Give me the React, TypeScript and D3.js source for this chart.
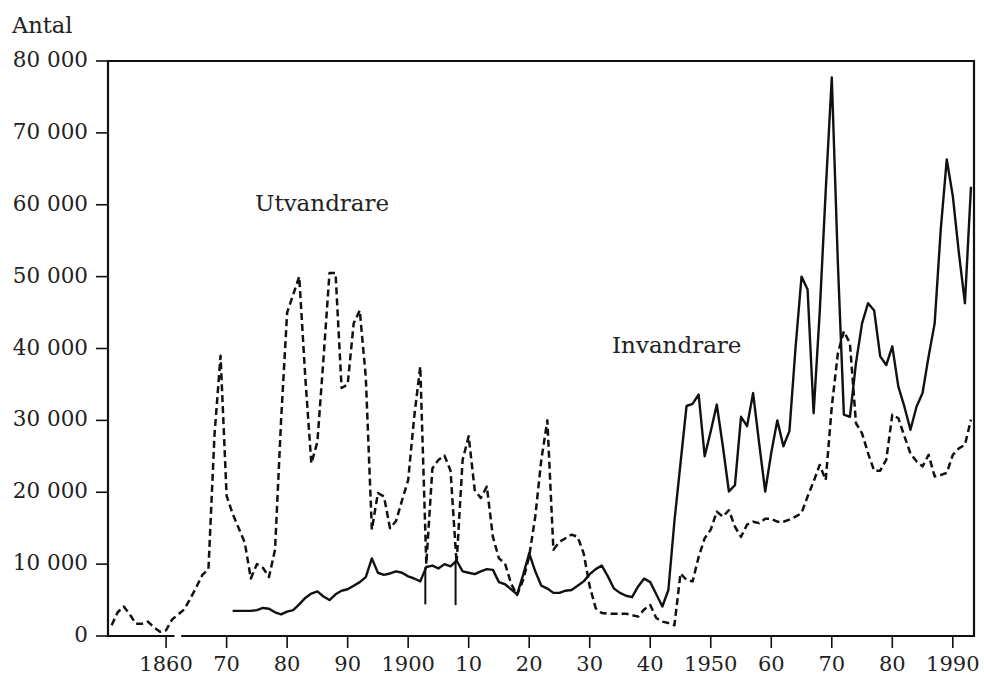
import React from "react";
import * as d3 from "d3";

// Years shown on the x axis
const tickYears = [1860, 1870, 1880, 1890, 1900, 1910, 1920, 1930, 1940, 1950, 1960, 1970, 1980, 1990];
const tickLabels = ["1860", "70", "80", "90", "1900", "10", "20", "30", "40", "1950", "60", "70", "80", "1990"];
const yTicks = [0, 10000, 20000, 30000, 40000, 50000, 60000, 70000, 80000];
const yTickLabels = ["0", "10 000", "20 000", "30 000", "40 000", "50 000", "60 000", "70 000", "80 000"];

// Utvandrare (emigrants), 1851–1993
const emigrationStart = 1851;
const emigration = [
  1500, 3300, 4100, 3000, 1700, 1700, 2000, 1200, 600, 800, // 1851-1860
  2300, 3000, 3700, 5200, 6800, 8500, 9300, 28000, 39000, 19500, // 1861-1870
  17000, 15000, 13000, 8000, 10000, 9500, 8200, 12000, 30000, 45000, // 1871-1880
  47500, 50000, 36000, 24000, 27000, 38500, 50500, 50500, 34500, 35000, // 1881-1890
  43500, 45300, 36000, 14800, 19900, 19400, 15000, 16000, 18900, 21700, // 1891-1900
  30500, 37500, 10000, 23300, 24500, 25100, 23000, 10100, 24500, 27800, // 1901-1910
  20300, 19200, 20800, 13800, 10800, 10100, 7300, 5700, 7800, 11100, // 1911-1920
  16600, 24500, 30000, 12000, 13100, 13600, 14100, 13800, 11500, 6900, // 1921-1930
  3850, 3200, 3100, 3100, 3100, 3100, 2900, 2700, 3700, 4300, // 1931-1940
  2500, 2000, 1800, 1500, 8700, 7800, 7600, 11000, 13600, 14800, // 1941-1950
  17300, 16600, 17500, 15200, 13800, 15500, 15900, 15700, 16300, 16300, // 1951-1960
  15900, 15900, 16200, 16600, 17100, 19400, 21500, 23800, 21700, 31900, // 1961-1970
  39300, 42400, 40700, 29600, 28200, 25400, 23000, 23000, 24500, 30800, // 1971-1980
  30300, 27800, 25400, 24300, 23600, 25200, 22200, 22400, 22700, 25200, // 1981-1990
  26100, 26600, 30100, // 1991-1993
];

// Invandrare (immigrants), 1871–1993
const immigrationStart = 1871;
const immigration = [
  3500, 3500, 3500, 3500, 3600, 3900, 3800, 3300, 3000, 3400, // 1871-1880
  3600, 4400, 5300, 5900, 6200, 5500, 5000, 5800, 6300, 6500, // 1881-1890
  7000, 7500, 8200, 10800, 8800, 8500, 8700, 9000, 8800, 8300, // 1891-1900
  8000, 7600, 9600, 9800, 9400, 10000, 9700, 10500, 9000, 8800, // 1901-1910
  8600, 9000, 9300, 9200, 7500, 7200, 6500, 5800, 8500, 11500, // 1911-1920
  9000, 7000, 6600, 6000, 6000, 6300, 6400, 7000, 7600, 8600, // 1921-1930
  9300, 9800, 8300, 6600, 6000, 5600, 5400, 6900, 8000, 7500, // 1931-1940
  5800, 4100, 6400, 16000, 24000, 32000, 32300, 33600, 25000, 28500, // 1941-1950
  32200, 26400, 20100, 21000, 30500, 29200, 33800, 26800, 20100, 25500, // 1951-1960
  30000, 26400, 28500, 40000, 50000, 48200, 31000, 45000, 62000, 77700, // 1961-1970
  52000, 30800, 30500, 38000, 43500, 46300, 45300, 38900, 37700, 40300, // 1971-1980
  34700, 31900, 28700, 31900, 33800, 38900, 43500, 56500, 66300, 61200, // 1981-1990
  53300, 46300, 62500, // 1991-1993
];

// Short vertical strokes below the immigration line
const immigrationDipYears = [1903, 1908];
const immigrationDipLows = [4400, 4300];

const W = 984;
const H = 677;
const FONT = "'DejaVu Serif', serif";

export default function App() {
  const x = d3.scaleLinear().domain([1850.4, 1993.5]).range([108, 974]);
  const y = d3.scaleLinear().domain([0, 80000]).range([636, 61]);

  const emi = emigration.map((v, i) => [emigrationStart + i, v] as [number, number]);
  const imm = immigration.map((v, i) => [immigrationStart + i, v] as [number, number]);
  const line = d3
    .line<[number, number]>()
    .x((d) => x(d[0]))
    .y((d) => y(d[1]));

  const left = x.range()[0];
  const right = x.range()[1];
  const top = y.range()[1];
  const bottom = y.range()[0];

  return (
    <svg
      width={W}
      height={H}
      style={{ position: "absolute", left: 0, top: 0, background: "#fff" }}
      fontFamily={FONT}
    >
      <rect x={0} y={0} width={W} height={H} fill="#fff" />
      {/* frame */}
      <line x1={left} x2={left} y1={top - 1} y2={bottom + 1} stroke="#111" strokeWidth={2.2} />
      <line x1={left - 1} x2={right + 1} y1={top} y2={top} stroke="#111" strokeWidth={2.2} />
      <line x1={right} x2={right} y1={top - 1} y2={bottom + 1} stroke="#111" strokeWidth={2.2} />
      <line x1={left - 1} x2={x(1861.4)} y1={bottom} y2={bottom} stroke="#111" strokeWidth={2.2} />
      <line x1={x(1862.5)} x2={right + 1} y1={bottom} y2={bottom} stroke="#111" strokeWidth={2.2} />

      {/* y ticks */}
      {yTicks.map((t, i) => (
        <g key={"y" + t}>
          <line x1={left - 12} x2={left} y1={y(t)} y2={y(t)} stroke="#111" strokeWidth={1.6} />
          <text x={88} y={y(t) + 6} textAnchor="end" fontSize={21.5} fill="#222">
            {yTickLabels[i]}
          </text>
        </g>
      ))}
      <text x={12} y={33} fontSize={22.5} fill="#222">
        Antal
      </text>

      {/* x ticks */}
      {tickYears.map((t, i) => (
        <g key={"x" + i}>
          <line x1={x(t)} x2={x(t)} y1={bottom} y2={bottom + 12} stroke="#111" strokeWidth={1.6} />
          <text x={x(t)} y={671} textAnchor="middle" fontSize={21} fill="#222">
            {tickLabels[i]}
          </text>
        </g>
      ))}

      {/* series */}
      <path d={line(emi) || ""} fill="none" stroke="#111" strokeWidth={2.5} strokeDasharray="7,4" strokeLinejoin="round" />
      <path d={line(imm) || ""} fill="none" stroke="#111" strokeWidth={2.4} strokeLinejoin="round" />
      {immigrationDipYears.map((yr, i) => (
        <line
          key={"dip" + yr}
          x1={x(yr) - 1}
          x2={x(yr) - 1}
          y1={y(immigration[yr - immigrationStart])}
          y2={y(immigrationDipLows[i])}
          stroke="#111"
          strokeWidth={2}
        />
      ))}

      {/* labels */}
      <text x={255} y={211} fontSize={23} fill="#222">
        Utvandrare
      </text>
      <text x={612} y={353} fontSize={23} fill="#222">
        Invandrare
      </text>
    </svg>
  );
}
